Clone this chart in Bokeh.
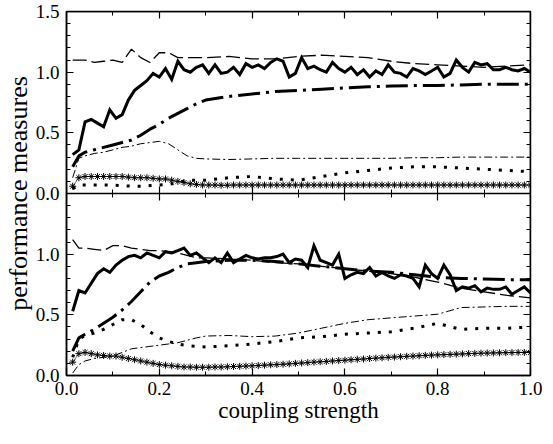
from bokeh.plotting import figure
from bokeh.models import Range1d, LinearAxis, FixedTicker, PrintfTickFormatter
from bokeh.embed import file_html
from bokeh.resources import INLINE

# ---------------- data ----------------
X_FINE = [0.0133, 0.0267, 0.04, 0.0533, 0.0667, 0.08, 0.0933, 0.1067, 0.12, 0.1333,
          0.1467, 0.16, 0.1733, 0.1867, 0.2, 0.2133, 0.2267, 0.24, 0.2533, 0.2667,
          0.28, 0.2933, 0.3067, 0.32, 0.3333, 0.3467, 0.36, 0.3733, 0.3867, 0.4,
          0.4133, 0.4267, 0.44, 0.4533, 0.4667, 0.48, 0.4933, 0.5067, 0.52, 0.5333,
          0.5467, 0.56, 0.5733, 0.5867, 0.6, 0.6133, 0.6267, 0.64, 0.6533, 0.6667,
          0.68, 0.6933, 0.7067, 0.72, 0.7333, 0.7467, 0.76, 0.7733, 0.7867, 0.8,
          0.8133, 0.8267, 0.84, 0.8533, 0.8667, 0.88, 0.8933, 0.9067, 0.92, 0.9333,
          0.9467, 0.96, 0.9733, 0.9867, 1.0]

X_COARSE = [0.0133, 0.0267, 0.04, 0.06, 0.08, 0.1, 0.12, 0.14, 0.16, 0.18,
            0.2, 0.22, 0.24, 0.26, 0.28, 0.3, 0.35, 0.4, 0.45, 0.5,
            0.55, 0.6, 0.65, 0.7, 0.75, 0.8, 0.85, 0.9, 0.95, 1.0]

# upper panel
TOP_SOLID = [0.32, 0.36, 0.59, 0.61, 0.58, 0.55, 0.69, 0.62, 0.65, 0.77,
             0.85, 0.89, 0.93, 0.99, 0.96, 1.03, 0.94, 1.09, 1.02, 1.00,
             1.04, 1.06, 0.99, 1.06, 0.99, 1.00, 1.04, 0.98, 1.07, 1.04,
             1.06, 1.03, 1.08, 1.11, 1.09, 0.96, 0.99, 1.12, 1.03, 1.05,
             1.02, 1.00, 1.08, 1.03, 1.00, 1.04, 0.98, 1.02, 0.96, 1.01,
             0.98, 1.06, 1.00, 0.99, 0.96, 1.03, 1.01, 0.98, 1.01, 1.04,
             0.96, 0.99, 1.10, 1.04, 1.00, 1.08, 1.06, 1.07, 1.02, 1.02,
             1.04, 1.02, 1.01, 1.03, 1.00]
TOP_STAR = [0.06, 0.13, 0.14, 0.14, 0.14, 0.14, 0.14, 0.14, 0.14, 0.135,
            0.13, 0.13, 0.13, 0.125, 0.12, 0.12, 0.11, 0.10, 0.09, 0.08,
            0.075, 0.07, 0.07, 0.07, 0.068, 0.068, 0.07, 0.07, 0.07, 0.07,
            0.07, 0.07, 0.07, 0.07, 0.07, 0.07, 0.07, 0.07, 0.07, 0.07,
            0.07, 0.07, 0.07, 0.07, 0.07, 0.07, 0.07, 0.07, 0.07, 0.07,
            0.07, 0.07, 0.07, 0.07, 0.07, 0.07, 0.07, 0.07, 0.07, 0.07,
            0.07, 0.07, 0.07, 0.07, 0.07, 0.07, 0.07, 0.07, 0.07, 0.07,
            0.07, 0.07, 0.07, 0.07, 0.07]
TOP_DASH = [1.10, 1.10, 1.10, 1.08, 1.09, 1.10, 1.08, 1.19, 1.12, 1.08,
            1.16, 1.16, 1.12, 1.12, 1.12, 1.12, 1.13, 1.11, 1.11, 1.13,
            1.14, 1.13, 1.12, 1.09, 1.07, 1.06, 1.05, 1.04, 1.05, 1.06]
TOP_DASHDOT = [0.22, 0.31, 0.34, 0.36, 0.38, 0.40, 0.42, 0.44, 0.48, 0.53,
               0.57, 0.62, 0.66, 0.70, 0.74, 0.77, 0.80, 0.82, 0.84, 0.85,
               0.86, 0.87, 0.88, 0.885, 0.89, 0.89, 0.895, 0.90, 0.90, 0.90]
TOP_THIN = [0.13, 0.29, 0.31, 0.33, 0.34, 0.36, 0.38, 0.39, 0.41, 0.42,
            0.43, 0.41, 0.36, 0.31, 0.29, 0.285, 0.28, 0.285, 0.29, 0.29,
            0.29, 0.29, 0.29, 0.29, 0.295, 0.295, 0.30, 0.30, 0.30, 0.30]
TOP_DOT = [0.04, 0.07, 0.07, 0.07, 0.07, 0.07, 0.065, 0.06, 0.06, 0.065,
           0.07, 0.075, 0.09, 0.11, 0.11, 0.11, 0.13, 0.14, 0.12, 0.11,
           0.14, 0.17, 0.19, 0.21, 0.22, 0.22, 0.21, 0.20, 0.19, 0.18]

# lower panel
BOT_SOLID = [0.53, 0.70, 0.68, 0.76, 0.84, 0.88, 0.85, 0.91, 0.95, 0.98,
             0.99, 0.97, 1.01, 0.99, 0.97, 1.02, 1.01, 1.03, 1.05, 0.99,
             1.01, 0.97, 0.93, 0.97, 0.93, 1.01, 0.93, 0.96, 0.99, 0.97,
             0.96, 0.97, 0.97, 0.98, 1.00, 0.93, 0.96, 0.95, 0.89, 1.07,
             0.95, 0.93, 0.91, 1.00, 0.80, 0.83, 0.85, 0.84, 0.89, 0.82,
             0.85, 0.82, 0.80, 0.83, 0.82, 0.80, 0.73, 0.91, 0.84, 0.80,
             0.91, 0.83, 0.70, 0.73, 0.72, 0.74, 0.69, 0.72, 0.71, 0.71,
             0.73, 0.67, 0.70, 0.73, 0.68]
BOT_STAR = [0.11, 0.18, 0.19, 0.18, 0.17, 0.165, 0.16, 0.16, 0.15, 0.14,
            0.13, 0.12, 0.11, 0.10, 0.09, 0.085, 0.08, 0.075, 0.07, 0.07,
            0.068, 0.068, 0.068, 0.07, 0.07, 0.072, 0.074, 0.076, 0.078, 0.08,
            0.082, 0.085, 0.088, 0.09, 0.093, 0.096, 0.10, 0.103, 0.106, 0.11,
            0.113, 0.116, 0.12, 0.123, 0.126, 0.13, 0.133, 0.136, 0.14, 0.143,
            0.146, 0.15, 0.152, 0.155, 0.158, 0.16, 0.163, 0.166, 0.168, 0.17,
            0.172, 0.174, 0.176, 0.178, 0.18, 0.182, 0.184, 0.185, 0.186, 0.187,
            0.188, 0.189, 0.19, 0.19, 0.19]
BOT_DASH = [1.12, 1.05, 1.05, 1.04, 1.03, 1.07, 1.07, 1.05, 1.04, 1.03,
            1.03, 1.02, 1.01, 0.99, 0.97, 0.97, 0.96, 0.95, 0.93, 0.92,
            0.90, 0.88, 0.86, 0.84, 0.81, 0.77, 0.72, 0.69, 0.66, 0.64]
BOT_DASHDOT = [0.20, 0.31, 0.34, 0.38, 0.43, 0.48, 0.54, 0.61, 0.69, 0.77,
               0.82, 0.85, 0.89, 0.92, 0.93, 0.94, 0.95, 0.95, 0.94, 0.92,
               0.90, 0.88, 0.86, 0.85, 0.83, 0.81, 0.80, 0.795, 0.79, 0.79]
BOT_THIN = [0.02, 0.09, 0.12, 0.14, 0.15, 0.16, 0.19, 0.22, 0.23, 0.24,
            0.25, 0.26, 0.27, 0.29, 0.31, 0.325, 0.33, 0.32, 0.325, 0.35,
            0.39, 0.43, 0.46, 0.475, 0.49, 0.505, 0.56, 0.565, 0.57, 0.57]
BOT_DOT = [0.15, 0.30, 0.33, 0.35, 0.38, 0.42, 0.46, 0.46, 0.42, 0.36,
           0.31, 0.28, 0.26, 0.245, 0.24, 0.235, 0.245, 0.26, 0.28, 0.31,
           0.32, 0.34, 0.35, 0.36, 0.39, 0.43, 0.38, 0.39, 0.39, 0.40]

X_TICKS = [0.0, 0.2, 0.4, 0.6, 0.8, 1.0]
X_MINOR = [0.1, 0.3, 0.5, 0.7, 0.9]
Y_TICKS = [0.0, 0.5, 1.0, 1.5, 2.0, 2.5, 3.0]
Y_TICK_LABELS = ["0.0", "0.5", "1.0", "0.0", "0.5", "1.0", "1.5"]
X_TITLE = "coupling strength"
Y_TITLE = "performance measures"

FONT = "Liberation Serif"

# ---------------- figure ----------------
p = figure(frame_width=464, frame_height=364,
           min_border_left=61, min_border_right=12, min_border_top=11, min_border_bottom=53,
           x_range=Range1d(0, 1), y_range=Range1d(0, 3),
           output_backend="svg", toolbar_location=None, tools="")
p.extra_y_ranges = {"top": Range1d(-1.5, 1.5)}
p.xgrid.visible = False
p.ygrid.visible = False
p.outline_line_color = "black"
p.outline_line_width = 1.5
p.background_fill_color = "white"
p.border_fill_color = "white"

y_minor = [i / 10 for i in range(31)]


def style_axis(ax, show_labels):
    ax.axis_line_color = "black"
    ax.axis_line_width = 1.5
    ax.major_tick_line_color = "black"
    ax.minor_tick_line_color = "black"
    ax.major_tick_line_width = 1.2
    ax.minor_tick_line_width = 1.0
    ax.major_tick_in = 7
    ax.major_tick_out = 0
    ax.minor_tick_in = 4
    ax.minor_tick_out = 0
    if show_labels:
        ax.major_label_text_font = FONT
        ax.major_label_text_font_size = "19px"
        ax.major_label_text_color = "black"
        ax.axis_label_text_font = FONT
        ax.axis_label_text_font_style = "normal"
        ax.axis_label_text_color = "black"
        ax.axis_label_standoff = 0
    else:
        ax.major_label_text_color = None
        ax.major_label_standoff = 0


# bottom x axis
bx = p.xaxis[0]
bx.ticker = FixedTicker(ticks=X_TICKS, minor_ticks=X_MINOR)
bx.formatter = PrintfTickFormatter(format="%.1f")
style_axis(bx, True)
bx.major_label_standoff = 6
bx.axis_label = X_TITLE
bx.axis_label_text_font_size = "23px"

# left y axis
ly = p.yaxis[0]
ly.ticker = FixedTicker(ticks=Y_TICKS, minor_ticks=y_minor)
ly.major_label_overrides = {t: s for t, s in zip(Y_TICKS, Y_TICK_LABELS)}
style_axis(ly, True)
ly.major_label_standoff = 7
ly.axis_label = Y_TITLE
ly.axis_label_text_font_size = "26px"

# top & right axes (ticks only) at the frame edges
ta = LinearAxis(ticker=FixedTicker(ticks=X_TICKS, minor_ticks=X_MINOR), fixed_location=3.0)
style_axis(ta, False)
p.add_layout(ta, "above")
ra = LinearAxis(ticker=FixedTicker(ticks=Y_TICKS, minor_ticks=y_minor), fixed_location=1.0)
style_axis(ra, False)
p.add_layout(ra, "right")

# panel separator axis
ma = LinearAxis(ticker=FixedTicker(ticks=X_TICKS, minor_ticks=X_MINOR), fixed_location=1.5)
style_axis(ma, False)
ma.major_tick_out = 7
ma.minor_tick_out = 4
p.add_layout(ma, "below")


def draw(rng, solid, star, dash, dashdot, thin, dot):
    kw = {} if rng is None else {"y_range_name": rng}
    p.line(X_FINE, star, line_color="#666666", line_width=1, **kw)
    p.scatter(X_FINE, star, marker="asterisk", size=7, line_color="black",
              line_width=1, **kw)
    p.line(X_COARSE, dot, line_color="black", line_width=3, line_dash="3 8", **kw)
    p.line(X_COARSE, thin, line_color="black", line_width=1, line_dash="8 3 2 3", **kw)
    p.line(X_COARSE, dashdot, line_color="black", line_width=3, line_dash="22 6 3 6", **kw)
    p.line(X_COARSE, dash, line_color="black", line_width=1.3, line_dash="14 5", **kw)
    p.line(X_FINE, solid, line_color="black", line_width=3, line_join="miter", **kw)


draw("top", TOP_SOLID, TOP_STAR, TOP_DASH, TOP_DASHDOT, TOP_THIN, TOP_DOT)
draw(None, BOT_SOLID, BOT_STAR, BOT_DASH, BOT_DASHDOT, BOT_THIN, BOT_DOT)

open("out.html", "w").write(file_html(p, INLINE))
